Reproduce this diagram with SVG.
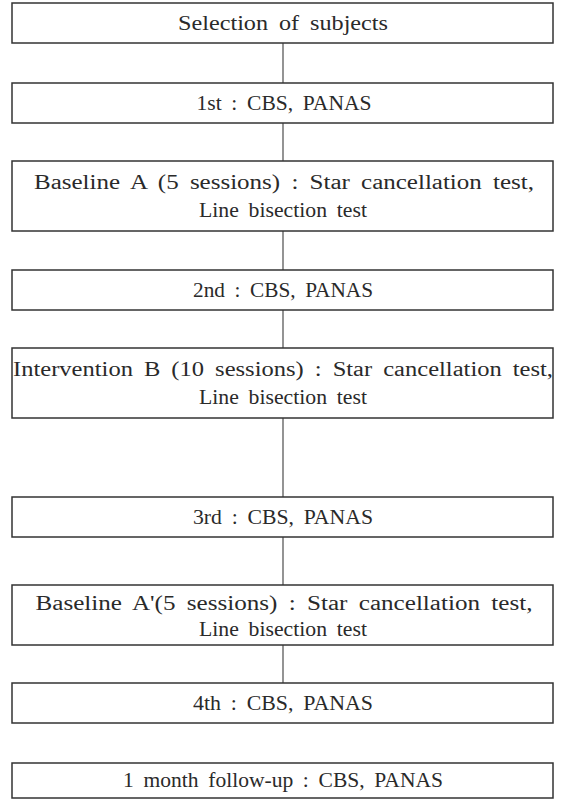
<svg xmlns="http://www.w3.org/2000/svg" width="566" height="799" viewBox="0 0 566 799">
<style>
.box{fill:#fff;stroke:#333;stroke-width:1.5}
.t{font-family:"Liberation Serif","Noto Sans CJK KR",serif;font-size:20px;word-spacing:4px;fill:#2a2a2a;text-anchor:middle}
.c{stroke:#666;stroke-width:1.4;fill:none}
</style>
<rect width="566" height="799" fill="#fff"/>
<g id="connectors">
<line class="c" x1="283" y1="43" x2="283" y2="83"/>
<line class="c" x1="283" y1="123" x2="283" y2="161"/>
<line class="c" x1="283" y1="231" x2="283" y2="270"/>
<line class="c" x1="283" y1="310" x2="283" y2="348"/>
<line class="c" x1="283" y1="418" x2="283" y2="497"/>
<line class="c" x1="283" y1="537" x2="283" y2="585"/>
<line class="c" x1="283" y1="645" x2="283" y2="683"/>
</g>
<g id="n1"><rect class="box" x="12" y="3" width="541" height="40"/><text class="t" x="283" y="30" textLength="210" lengthAdjust="spacingAndGlyphs">Selection of subjects</text></g>
<g id="n2"><rect class="box" x="12" y="83" width="541" height="40"/><text class="t" x="284" y="110" textLength="175" lengthAdjust="spacingAndGlyphs">1st : CBS, PANAS</text></g>
<g id="n3"><rect class="box" x="12" y="161" width="541" height="70"/><text class="t" x="284" y="189" textLength="500" lengthAdjust="spacingAndGlyphs">Baseline A (5 sessions) : Star cancellation test,</text><text class="t" x="283" y="217" textLength="168" lengthAdjust="spacingAndGlyphs">Line bisection test</text></g>
<g id="n4"><rect class="box" x="12" y="270" width="541" height="40"/><text class="t" x="283" y="297" textLength="180" lengthAdjust="spacingAndGlyphs">2nd : CBS, PANAS</text></g>
<g id="n5"><rect class="box" x="12" y="348" width="541" height="70"/><text class="t" x="283" y="376" textLength="540" lengthAdjust="spacingAndGlyphs">Intervention B (10 sessions) : Star cancellation test,</text><text class="t" x="283" y="404" textLength="168" lengthAdjust="spacingAndGlyphs">Line bisection test</text></g>
<g id="n6"><rect class="box" x="12" y="497" width="541" height="40"/><text class="t" x="283" y="524" textLength="180" lengthAdjust="spacingAndGlyphs">3rd : CBS, PANAS</text></g>
<g id="n7"><rect class="box" x="12" y="585" width="541" height="60"/><text class="t" x="284" y="610" textLength="497" lengthAdjust="spacingAndGlyphs">Baseline A'(5 sessions) : Star cancellation test,</text><text class="t" x="283" y="636" textLength="168" lengthAdjust="spacingAndGlyphs">Line bisection test</text></g>
<g id="n8"><rect class="box" x="12" y="683" width="541" height="40"/><text class="t" x="283" y="710" textLength="180" lengthAdjust="spacingAndGlyphs">4th : CBS, PANAS</text></g>
<g id="n9"><rect class="box" x="12" y="763" width="541" height="35"/><text class="t" x="283" y="787" textLength="320" lengthAdjust="spacingAndGlyphs">1 month follow-up : CBS, PANAS</text></g>
</svg>
